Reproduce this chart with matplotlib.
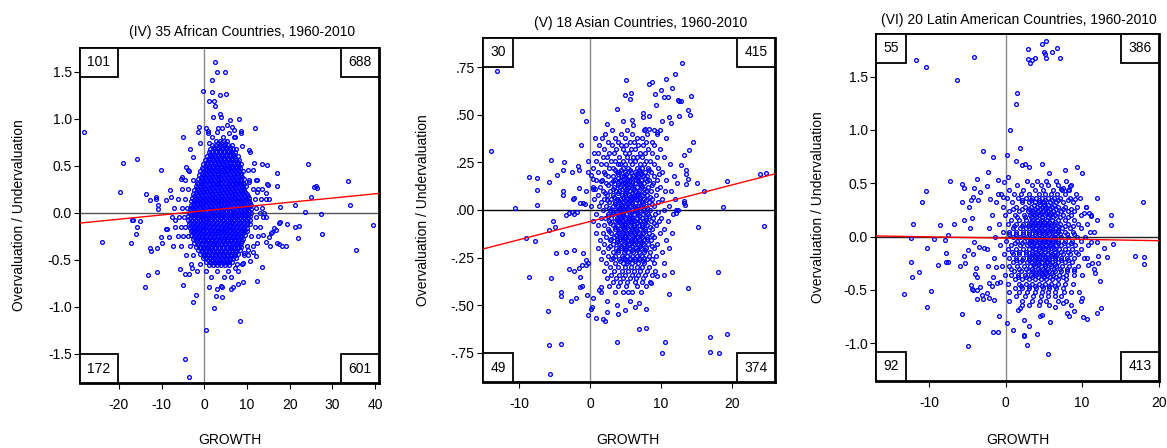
import numpy as np
import matplotlib
matplotlib.use('Agg')
from matplotlib import pyplot as plt
from matplotlib.patches import Rectangle

plt.rcParams['font.family'] = ['Liberation Sans', 'DejaVu Sans']
plt.rcParams['axes.unicode_minus'] = False

# ---------------------------------------------------------------- data
# scattered points: "growth value" pairs
AFRICA_SCATTER = """
-28.1 .855  -24.0 -.315  -19.7 .223  -19.0 .528  -15.8 .574  -10.2 .457
-17.2 -.326  -17.0 -.078  -16.8 -.078  -15.8 -.156  -16.0 -.23  -15.1 -.089
-13.7 .202  -12.6 .131  -11.4 .17  -11.4 .149  -10.9 .082  -10.9 .043
-13.8 -.787  -13.2 -.667  -12.6 -.379  -12.5 -.404  -11.1 -.379  -11.0 -.631
-10.1 -.262  -9.8 -.326  -9.0 -.174  -8.7 -.174  -8.9 .135  -8.1 .241
-7.9 .17  -7.3 -.355  -6.9 -.078  -8.3 -.255  -5.1 .808  -5.3 .383
-5.5 .362  -4.4 .489  -3.6 .447  -3.4 .674  -2.6 .596  -1.2 .915
-1.4 .862  -1.0 .745  -5.8 -.603  -5.1 -.773  -4.6 -.656  -3.5 -.656
-2.8 -.589  -2.0 -.876  -2.6 -.954  -4.6 -1.56  -3.5 -1.75  .5 -1.248
2.3 -1.01  4.1 -.90  2.7 -.883  1.1 -.787  2.9 -.809  3.8 -.777
4.2 -.787  6.2 -.812  6.8 -.794  8.3 -1.15  7.8 -.759  9.0 -.741
12.3 -.723  13.4 -.574  12.1 -.461  10.8 -.518  9.0 -.539  7.3 -.592
2.5 1.596  3.0 1.5  4.9 1.5  1.8 1.41  -.3 1.298  1.7 1.28
5.1 1.262  3.6 1.252  1.2 1.188  2.3 1.188  2.4 1.135  3.6 1.053
3.8 1.014  2.1 1.014  8.2 .996  5.9 .986  11.9 .90  8.7 .869
8.5 .851  17.0 .426  13.5 .518  14.7 .507  11.6 .532  24.2 .521
14.7 .301  15.0 .294  17.0 .284  14.4 .206  14.5 .145  15.2 .142
17.7 .057  21.2 .085  23.5 .011  25.0 .163  25.7 .27  26.1 .284
26.3 .259  27.3 -.011  27.6 -.227  33.7 .333  34.2 .082  35.6 -.394
39.5 -.131  21.2 -.149  22.2 -.138  21.9 -.27  19.4 -.117  19.2 -.351
18.3 -.351  17.5 -.337  17.1 -.326  15.4 -.351  14.5 -.316  17.7 -.096
17.4 -.106  16.3 -.167  16.7 -.184  15.9 -.202  15.5 -.22  14.5 -.05
14.0 -.007  13.0 -.007  15.2 -.255  13.7 -.238  12.4 -.326  11.3 -.415
10.3 -.397  9.3 -.433  10.4 .33  12.4 .348  12.4 .223  10.5 .667
10.8 .642  8.8 .709  7.4 .674  6.9 .809  5.4 .933  6.6 .915
6.9 .879  .9 .865  1.1 .738  .3 .897  3.0 .862  3.3 .904  4.1 .904
"""

# dense cloud, one line per value band: "value: growth growth ..."
AFRICA_CLOUD = """
.85: 0.8 5.8
.80: 1.9 4.4 7.3
.76: 2.7 3.6 4.5 5.4
.74: 3.1 4.0 4.9
.72: 1.9 2.8 3.7 4.6 5.5 6.4
.70: 2.3 3.2 4.1 5.0 5.9
.68: 1.4 2.3 3.2 4.1 5.0 5.9 6.8
.66: 1.8 2.7 3.6 4.5 5.4 6.3
.64: 1.0 1.9 2.8 3.7 4.6 5.5 6.4 7.3
.62: 1.4 2.3 3.2 4.1 5.0 5.9 6.8
.60: 0.6 1.5 2.4 3.3 4.2 5.1 6.0 6.9 7.8
.58: 1.0 1.9 2.8 3.7 4.6 5.5 6.4 7.3
.56: 0.2 1.1 2.0 2.9 3.8 4.7 5.6 6.5 7.4 8.2
.54: 0.6 1.5 2.4 3.3 4.2 5.1 6.0 6.9 7.8
.52: -0.2 0.7 1.6 2.5 3.4 4.3 5.2 6.1 7.0 7.9 8.6
.50: 0.2 1.1 2.0 2.9 3.8 4.7 5.6 6.5 7.4 8.1
.48: -0.6 0.3 1.2 2.1 3.0 3.9 4.8 5.7 6.6 7.5 8.4
.46: -0.2 0.7 1.6 2.5 3.4 4.3 5.2 6.1 7.0 7.9
.45: -3.9 10.2 11.4
.44: -0.9 0.0 0.9 1.8 2.7 3.6 4.5 5.4 6.3 7.2 8.1 9.0
.42: -0.5 0.4 1.3 2.2 3.1 4.0 4.9 5.8 6.7 7.6 8.5
.40: -1.2 -0.3 0.6 1.5 2.4 3.3 4.2 5.1 6.0 6.9 7.8 8.7
.38: -0.8 0.1 1.0 1.9 2.8 3.7 4.6 5.5 6.4 7.3 8.2 8.9
.36: -1.4 -0.5 0.4 1.3 2.2 3.1 4.0 4.9 5.8 6.7 7.6 8.5 9.3
.35: -4.6 -2.7 10.5 12.1
.34: -1.1 -0.2 0.7 1.6 2.5 3.4 4.3 5.2 6.1 7.0 7.9 8.7
.32: -1.7 -0.8 0.1 1.0 1.9 2.8 3.7 4.6 5.5 6.4 7.3 8.2 9.1
.30: -1.4 -0.5 0.4 1.3 2.2 3.1 4.0 4.9 5.8 6.7 7.6 8.5 9.3
.28: -2.0 -1.1 -0.2 0.7 1.6 2.5 3.4 4.3 5.2 6.1 7.0 7.9 8.8 9.7
.26: -1.7 -0.8 0.1 1.0 1.9 2.8 3.7 4.6 5.5 6.4 7.3 8.2 9.1
.25: -5.2 -3.8 11.3 12.6 13.5
.24: -2.3 -1.4 -0.5 0.4 1.3 2.2 3.1 4.0 4.9 5.8 6.7 7.6 8.5 9.4
.22: -2.0 -1.1 -0.2 0.7 1.6 2.5 3.4 4.3 5.2 6.1 7.0 7.9 8.8 9.6
.20: -2.6 -1.7 -0.8 0.1 1.0 1.9 2.8 3.7 4.6 5.5 6.4 7.3 8.2 9.1 10.0
.18: -2.3 -1.4 -0.5 0.4 1.3 2.2 3.1 4.0 4.9 5.8 6.7 7.6 8.5 9.4 10.2
.16: -2.8 -1.9 -1.0 -0.1 0.8 1.7 2.6 3.5 4.4 5.3 6.2 7.1 8.0 8.9 9.8 10.5
.15: -6.1 -4.5 11.8 13.2
.14: -2.5 -1.6 -0.7 0.2 1.1 2.0 2.9 3.8 4.7 5.6 6.5 7.4 8.3 9.2 10.1
.12: -3.0 -2.1 -1.2 -0.3 0.6 1.5 2.4 3.3 4.2 5.1 6.0 6.9 7.8 8.7 9.6 10.5
.10: -2.7 -1.8 -0.9 0.0 0.9 1.8 2.7 3.6 4.5 5.4 6.3 7.2 8.1 9.0 9.9 10.7
.08: -3.2 -2.3 -1.4 -0.5 0.4 1.3 2.2 3.1 4.0 4.9 5.8 6.7 7.6 8.5 9.4 10.3 11.0
.06: -2.9 -2.0 -1.1 -0.2 0.7 1.6 2.5 3.4 4.3 5.2 6.1 7.0 7.9 8.8 9.7 10.5
.05: -7.0 -5.2 -4.1 12.0 13.4
.04: -3.4 -2.5 -1.6 -0.7 0.2 1.1 2.0 2.9 3.8 4.7 5.6 6.5 7.4 8.3 9.2 10.1 10.9
.02: -3.1 -2.2 -1.3 -0.4 0.5 1.4 2.3 3.2 4.1 5.0 5.9 6.8 7.7 8.6 9.5 10.4
.00: -3.5 -2.6 -1.7 -0.8 0.1 1.0 1.9 2.8 3.7 4.6 5.5 6.4 7.3 8.2 9.1 10.0 10.9
-.02: -3.2 -2.3 -1.4 -0.5 0.4 1.3 2.2 3.1 4.0 4.9 5.8 6.7 7.6 8.5 9.4 10.3
-.04: -3.7 -2.8 -1.9 -1.0 -0.1 0.8 1.7 2.6 3.5 4.4 5.3 6.2 7.1 8.0 8.9 9.8 10.7
-.05: -7.6 -6.0 -4.8 12.2 13.7
-.06: -3.3 -2.4 -1.5 -0.6 0.3 1.2 2.1 3.0 3.9 4.8 5.7 6.6 7.5 8.4 9.3 10.2
-.08: -3.8 -2.9 -2.0 -1.1 -0.2 0.7 1.6 2.5 3.4 4.3 5.2 6.1 7.0 7.9 8.8 9.7 10.6
-.10: -3.3 -2.4 -1.5 -0.6 0.3 1.2 2.1 3.0 3.9 4.8 5.7 6.6 7.5 8.4 9.3 10.2
-.12: -3.6 -2.7 -1.8 -0.9 0.0 0.9 1.8 2.7 3.6 4.5 5.4 6.3 7.2 8.1 9.0 9.9 10.6
-.14: -3.1 -2.2 -1.3 -0.4 0.5 1.4 2.3 3.2 4.1 5.0 5.9 6.8 7.7 8.6 9.5
-.15: -6.8 -5.4 -4.6 11.8 13.0
-.16: -3.4 -2.5 -1.6 -0.7 0.2 1.1 2.0 2.9 3.8 4.7 5.6 6.5 7.4 8.3 9.2 10.1
-.18: -2.9 -2.0 -1.1 -0.2 0.7 1.6 2.5 3.4 4.3 5.2 6.1 7.0 7.9 8.8 9.6
-.20: -3.2 -2.3 -1.4 -0.5 0.4 1.3 2.2 3.1 4.0 4.9 5.8 6.7 7.6 8.5 9.4 10.1
-.22: -2.6 -1.7 -0.8 0.1 1.0 1.9 2.8 3.7 4.6 5.5 6.4 7.3 8.2 9.1
-.24: -3.0 -2.1 -1.2 -0.3 0.6 1.5 2.4 3.3 4.2 5.1 6.0 6.9 7.8 8.7 9.6
-.25: -6.2 -4.9 -3.9 11.0 12.5
-.26: -2.3 -1.4 -0.5 0.4 1.3 2.2 3.1 4.0 4.9 5.8 6.7 7.6 8.5
-.28: -2.7 -1.8 -0.9 0.0 0.9 1.8 2.7 3.6 4.5 5.4 6.3 7.2 8.1 9.0
-.30: -1.9 -1.0 -0.1 0.8 1.7 2.6 3.5 4.4 5.3 6.2 7.1 8.0 8.8
-.32: -2.3 -1.4 -0.5 0.4 1.3 2.2 3.1 4.0 4.9 5.8 6.7 7.6 8.5
-.34: -1.5 -0.6 0.3 1.2 2.1 3.0 3.9 4.8 5.7 6.6 7.5 8.3
-.35: -5.5 -3.3 10.1 11.4
-.36: -1.9 -1.0 -0.1 0.8 1.7 2.6 3.5 4.4 5.3 6.2 7.1 8.0 8.7
-.38: -1.1 -0.2 0.7 1.6 2.5 3.4 4.3 5.2 6.1 7.0 7.8
-.40: -1.5 -0.6 0.3 1.2 2.1 3.0 3.9 4.8 5.7 6.6 7.5 8.3
-.42: -0.6 0.3 1.2 2.1 3.0 3.9 4.8 5.7 6.6 7.4
-.44: -1.0 -0.1 0.8 1.7 2.6 3.5 4.4 5.3 6.2 7.1 7.9
-.45: -4.4 -2.6 9.2 10.3
-.46: 0.0 0.9 1.8 2.7 3.6 4.5 5.4 6.3 7.0
-.48: -0.4 0.5 1.4 2.3 3.2 4.1 5.0 5.9 6.8 7.5
-.50: 0.8 1.7 2.6 3.5 4.4 5.3 6.1
-.52: 0.4 1.3 2.2 3.1 4.0 4.9 5.8 6.6
-.54: 1.6 2.5 3.4 4.3 5.2
-.55: -3.0 -1.1 7.6 8.9
-.56: 1.2 2.1 3.0 3.9 4.8 5.7
-.62: -1.8 0.5 3.0 5.5 7.9
-.68: 1.5 4.7 6.3
"""

ASIA_SCATTER = """
-13.15 .732  -14.0 .311  -10.5 .012  -9.0 -.146  -7.7 -.162  -8.6 .176
-7.4 .170  -7.4 .105  -7.4 .025  -8.6 -.353  -5.8 .149  -5.5 .263
-4.7 .184  -3.8 .211  -3.6 .251  -3.8 .100  -3.8 .079  -5.2 -.058
-4.9 -.088  -5.7 -.105  -3.9 -.128  -4.8 -.227  -3.4 -.221  -5.5 -.36
-5.9 -.534  -5.7 -.711  -4.1 -.704  -5.6 -.861  -4.1 -.432  -4.1 -.453
-2.7 -.48  -2.0 -.462  -3.0 -.309  -2.3 -.32  -2.3 -.209  -3.4 -.026
-3.0 -.018  -2.5 -.011  -2.3 -.023  -1.8 -.012  -2.4 .056  -2.3 .065
-1.4 .035  -1.0 .035  -.75 .033  -2.5 .2  -1.7 .232  -1.5 .211
-1.5 .114  -1.1 .522  -.5 .469  -1.3 .344  -.6 .1  -.2 .258
-.2 .2  .1 .184  .56 .302  .7 .378  .4 .162  .4 .109  .7 .109
2.4 .451  3.8 .532  4.6 .469  5.1 .682  4.9 .606  5.8 .618
5.6 .585  6.0 .474  6.06 .448  7.5 .508  7.5 .488  8.4 .494
8.4 .664  8.8 .676  9.2 .611  9.3 .553  10.0 .632  10.5 .597
11.0 .594  10.8 .69  11.6 .641  12.0 .717  13.05 .776  12.4 .58
12.6 .576  12.9 .571  14.2 .599  13.9 .527  14.05 .501  12.6 .497
11.2 .488  11.5 .457  10.1 .467  9.95 .422  9.5 .413  8.97 .422
7.8 .427  8.3 .427  14.6 .357  14.0 .314  13.3 .288  12.8 .237
13.6 .211  13.6 .188  13.8 .163  13.6 .135  15.1 .14  16.1 .098
18.7 .018  19.4 .153  24.0 .188  24.9 .197  24.5 -.084  15.2 -.091
13.3 .049  13.3 .037  13.4 .026  12.2 -.018  12.2 .0  18.1 -.327
13.8 -.408  11.2 -.444  11.6 -.325  10.4 -.343  9.4 -.346  8.6 -.383
7.9 -.522  7.9 -.62  6.9 -.627  6.9 -.488  6.3 -.51  5.7 -.48
5.35 -.43  5.0 -.527  3.8 -.5  3.9 -.548  3.8 -.692  2.4 -.536
2.4 -.478  2.2 -.585  1.8 -.574  .85 -.567  -.2 -.553  .3 -.509
.14 -.52  .5 -.462  -.4 -.448  1.3 -.422  1.6 -.43  1.5 -.404
-.6 -.29  -.2 -.278  -1.1 -.29  -1.5 -.304  -1.4 -.35  -1.4 -.404
-1.1 -.399  -1.0 -.225  -.6 -.264  16.95 -.667  16.95 -.745  18.2 -.755
19.3 -.652  10.1 -.755  10.6 -.697
"""

ASIA_CLOUD = """
.42: 3.1 5.3 7.7
.40: 2.2 4.4 6.0 8.1 9.4
.38: 1.7 3.5 4.9 6.6 7.3 10.8
.36: 2.6 3.9 5.6 6.2 7.9 8.7
.34: 1.3 3.1 4.4 5.1 6.8 7.5 9.1
.32: 2.0 3.7 4.6 5.8 6.4 8.2 9.9
.30: 1.1 2.7 3.4 4.9 5.5 7.0 7.8 8.8
.28: 1.8 2.4 4.1 5.2 6.1 6.7 7.4 9.4 10.5
.26: 0.8 3.0 3.6 4.6 5.7 6.4 7.9 8.5
.24: 1.5 2.3 3.9 4.3 5.0 6.0 7.1 7.6 9.0 11.3
.22: 0.5 2.7 3.3 4.7 5.4 6.6 7.3 8.2 9.6
.21: 3.5 4.4 5.6 6.9 8.3
.20: 1.2 2.0 3.8 4.1 5.0 5.8 6.3 7.0 7.8 8.6 10.2
.19: 2.2 4.0 5.1 6.5 7.2 9.7
.18: 2.6 3.2 4.5 4.8 5.5 6.1 6.8 7.5 8.0 9.1 11.8
.17: 3.9 4.9 5.9 6.7 7.8
.16: 0.9 1.7 3.6 4.2 5.2 5.7 6.5 7.2 8.4 9.5 10.8
.15: 1.6 3.3 4.4 5.5 6.8 8.0
.14: 2.3 3.0 3.9 4.6 5.0 5.9 6.3 7.0 7.7 8.9 12.3
.13: 2.6 4.0 5.1 5.8 7.2 8.7
.12: 0.4 1.4 3.4 4.3 4.8 5.4 6.0 6.7 7.4 8.2 9.9
.11: 3.2 4.5 5.3 6.2 7.6 9.4
.10: 1.9 2.8 3.7 4.1 5.1 5.7 6.4 6.9 7.9 8.6 10.6 11.5
.09: 2.1 3.9 5.0 5.9 6.8 7.7
.08: 1.1 2.4 3.3 4.5 4.9 5.5 6.2 6.6 7.3 8.1 9.3
.07: 3.4 4.6 5.6 6.3 7.0 8.5
.06: 0.6 2.0 3.0 3.8 4.3 5.2 5.8 6.5 7.1 7.6 8.8 10.1 12.0
.05: 2.4 4.0 4.9 5.6 6.7 7.9
.04: 1.6 2.7 3.5 4.1 4.7 5.4 6.0 6.9 7.4 8.3 9.6
.03: 3.6 4.4 5.3 6.0 7.5 8.7
.02: 0.2 1.3 2.3 3.2 3.9 4.5 5.0 5.6 6.3 6.7 7.2 7.9 9.0 11.1
.01: 2.7 4.1 4.7 5.4 6.3 7.1 8.0
.00: 1.9 2.9 3.6 4.3 4.8 5.3 5.9 6.5 7.0 7.7 8.5 10.4 12.4
-.01: 3.2 4.5 5.9 6.6 7.8 9.6
-.02: 0.8 2.5 3.3 4.0 4.6 5.1 5.7 6.2 6.8 7.5 8.2 9.2 11.7
-.03: 2.5 4.1 4.8 5.7 6.9 8.4
-.04: 1.5 2.2 3.0 3.8 4.4 4.9 5.5 6.0 6.6 7.3 7.9 8.9 10.0
-.05: 3.8 4.5 5.5 6.1 7.1 7.9
-.06: 0.5 2.7 3.5 4.1 4.7 5.3 5.8 6.4 7.0 7.6 8.6 9.7 11.0
-.07: 2.9 4.3 5.0 5.8 6.6 7.8 9.0
-.08: 1.2 2.0 3.2 3.9 4.5 5.0 5.6 6.2 6.9 7.4 8.1 9.3
-.09: 3.5 4.6 5.3 6.2 7.3 8.5
-.10: 2.5 3.6 4.2 4.8 5.4 6.0 6.5 7.1 7.8 8.7 10.5
-.11: 2.7 4.1 4.9 5.8 6.6 7.8
-.12: 0.9 1.8 3.0 3.9 4.6 5.2 5.7 6.3 6.9 7.5 8.3 9.9 11.6
-.13: 3.7 4.5 5.4 6.3 7.2 8.7
-.14: 2.3 3.4 4.3 4.9 5.5 6.1 6.6 7.3 8.0 9.0
-.15: 3.0 4.2 5.0 5.9 6.9 8.1
-.16: 1.4 2.9 3.8 4.6 5.2 5.8 6.4 7.0 7.7 8.6 10.7
-.17: 3.8 4.9 5.8 6.5 7.3
-.18: 2.0 3.3 4.1 4.8 5.5 6.2 6.8 7.5 8.2 9.5
-.19: 2.9 4.4 5.3 6.0 7.0 8.8
-.20: 1.1 2.6 3.7 4.4 5.1 5.7 6.5 7.2 7.9 9.0 11.2
-.21: 3.9 5.0 5.9 6.7 7.8
-.22: 1.9 3.2 4.0 4.8 5.4 6.1 6.9 7.7 8.5 10.1
-.24: 2.5 3.6 4.5 5.2 5.9 6.6 7.4 8.3 9.3
-.25: 3.3 4.7 5.7 6.9 7.7
-.26: 1.6 3.0 4.1 4.9 5.6 6.3 7.1 8.0 8.8
-.27: 4.2 5.3 6.3 7.5
-.28: 2.3 3.5 4.6 5.3 6.0 6.8 7.7 9.0 10.4
-.30: 2.9 4.0 5.0 5.8 6.6 7.4 8.4
-.32: 2.0 3.4 4.5 5.4 6.2 7.1 8.0 9.2
-.34: 3.0 4.1 5.0 5.9 6.8 7.8 8.8
-.36: 2.4 3.7 4.7 5.6 6.5 7.5
-.38: 3.2 4.3 5.3 6.3 7.3 8.5
-.40: 2.7 4.0 5.1 6.6 7.9
-.43: 3.5 4.7 6.0 7.2
"""

LATAM_SCATTER = """
-11.7 1.652  -10.4 1.589  -4.2 1.687  -6.3 1.467  2.9 1.755  2.9 1.661
3.2 1.624  3.4 1.658  3.9 1.674  4.8 1.802  5.3 1.834  5.0 1.734
5.2 1.708  5.3 1.677  6.0 1.730  6.7 1.771  7.1 1.677  1.5 1.345
1.3 1.241  .6 1.003  1.9 .831  -3.0 .806  -1.6 .746  .2 .765
1.3 .705  2.1 .668  2.5 .68  3.0 .649  4.8 .677  5.7 .599
7.7 .621  9.3 .649  10.0 .592  -2.3 .605  -3.7 .542  -7.3 .523
-5.7 .498  -5.5 .458  -4.2 .455  -10.4 .429  -10.9 .326  -5.7 .329
-4.3 .367  -4.5 .345  -3.6 .339  -3.4 .417  -4.8 .282  -12.1 .122
-8.6 .107  -6.7 .122  -5.4 .16  -4.4 .179  -4.7 .085  -7.5 .016
-12.4 -.013  -9.4 -.022  -7.9 -.034  -10.3 -.103  -12.4 -.235  -12.3 -.382
-11.3 -.329  -13.3 -.539  -9.7 -.508  -10.3 -.661  -8.9 -.263  -7.8 -.15
-7.8 -.235  -7.6 -.235  -6.0 -.276  -5.3 -.248  -5.5 -.182  -4.9 -.125
-4.3 -.163  -4.2 -.053  -3.5 -.097  -2.8 -.11  -3.9 -.292  -3.96 -.351
-3.8 -.382  -4.5 -.458  -4.4 -.489  -4.3 -.502  -3.8 -.502  -3.4 -.47
-3.8 -.589  -3.1 -.549  -3.0 -.583  -2.5 -.533  -2.2 -.577  -1.5 -.596
-2.3 -.276  -1.3 -.285  -2.2 -.433  -1.7 -.376  -1.8 -.461  -1.1 -.439
-.7 -.423  -5.7 -.724  -3.65 -.80  -4.9 -1.025  -1.6 -.897  -1.0 -.897
-.9 -.743  .4 -.605  .2 -.809  1.0 -.878  1.65 -.69  1.9 -.674
2.1 -.643  2.4 -.784  3.0 -.84  2.4 -.934  2.4 -.922  2.8 -1.019
4.1 -.912  4.5 -.743  4.7 -.737  5.8 -.80  5.5 -1.1  6.4 -.658
7.5 -.627  8.0 -.715  8.3 -.743  8.6 -.643  8.9 -.696  10.1 -.752
10.65 -.774  11.9 -.721  12.5 -.674  9.8 -.602  9.65 -.524  9.96 -.58
12.3 -.417  11.7 -.345  11.5 -.307  12.05 -.251  11.3 -.251  10.8 -.266
10.65 -.204  12.1 -.179  13.3 -.188  12.9 -.103  14.0 -.066  16.9 -.179
18.1 -.188  18.1 -.26  17.9 .32  13.8 .204  13.8 .11  12.0 .364
11.9 .157  11.6 .047  12.0 -.053  11.2 -.053  10.5 .282  10.96 .219
11.2 .194  10.2 .219  9.1 .351  8.4 .47  8.3 .439  7.5 .455  7.2 .448
.3 .555  -.2 .51  -1.0 .53  -2.4 .47  -2.0 .35  -1.0 .40  -.4 .37
"""

LATAM_CLOUD = """
.52: 2.8 4.1 5.3 6.6 7.9
.48: 1.5 3.4 4.6 5.6 6.9 8.6
.44: 0.5 2.3 3.9 4.9 6.2 7.4 8.1
.40: -0.6 1.1 2.0 3.0 4.3 5.2 5.9 6.7 7.7 9.2
.36: 0.2 1.6 2.6 3.5 4.0 4.7 5.5 6.3 7.1 8.4 9.7
.34: 2.2 3.3 4.4 5.2 6.0 6.9 8.1
.32: -1.3 0.8 2.1 3.0 3.8 4.4 5.0 5.8 6.6 7.5 8.8
.30: 3.7 4.5 5.0 5.6 6.3
.28: -0.3 1.3 2.5 3.3 4.1 4.7 5.3 6.0 6.9 7.8 9.3 10.5
.26: 1.0 2.1 3.0 3.8 4.5 5.1 5.8 6.6 7.5 8.6
.24: 0.5 1.8 2.9 3.6 4.2 4.9 5.6 6.2 7.2 8.1 9.0
.22: 3.4 4.0 4.6 5.3 5.9 6.7
.20: -1.8 -0.1 1.2 2.4 3.2 3.9 4.5 5.1 5.8 6.5 7.5 8.5 9.8 11.2
.18: 1.5 2.5 3.3 4.0 4.8 5.5 6.2 7.1 8.2
.16: 0.7 1.8 2.7 3.5 4.1 4.7 5.4 6.0 6.8 7.7 8.9
.14: 3.3 3.9 4.5 5.0 5.7 6.5
.12: -0.9 0.3 1.3 2.3 3.0 3.7 4.3 4.9 5.6 6.3 7.1 8.1 9.4 10.6
.10: 1.1 2.1 2.9 3.6 4.2 4.8 5.4 6.1 6.9 7.8 8.8
.08: -2.2 0.9 1.9 2.7 3.4 4.0 4.6 5.2 5.9 6.6 7.4 8.4 9.9
.06: 3.6 4.2 4.8 5.4 6.0 6.8
.04: -0.4 0.5 1.4 2.3 3.1 3.8 4.4 5.0 5.6 6.2 6.9 7.8 8.8 11.0
.02: 0.4 1.4 2.3 3.1 3.8 4.4 5.0 5.7 6.4 7.1 8.0 9.0
.00: -1.4 1.0 1.9 2.8 3.5 4.1 4.7 5.3 5.9 6.5 7.3 8.2 9.3 10.4
-.02: 3.3 3.9 4.5 5.1 5.7 6.4
-.04: 0.1 1.5 2.4 3.2 3.8 4.4 5.0 5.6 6.2 6.9 7.7 8.7 9.8
-.06: 1.2 2.2 3.0 3.7 4.3 4.9 5.5 6.1 6.8 7.6 8.5
-.08: -0.8 0.7 1.9 2.8 3.5 4.1 4.7 5.3 5.9 6.6 7.3 8.1 9.1 10.8
-.10: 3.6 4.3 4.9 5.5 6.2
-.12: -2.4 0.3 1.3 2.3 3.1 3.8 4.4 5.0 5.6 6.3 7.0 7.8 8.7 9.9
-.14: 0.8 1.7 2.6 3.4 4.0 4.6 5.2 5.9 6.5 7.3 8.2 9.2
-.16: -0.2 0.9 1.8 2.7 3.5 4.1 4.7 5.4 6.0 6.7 7.5 8.4 9.4
-.18: 3.2 3.9 4.5 5.2 5.9 6.6
-.20: -1.5 0.4 1.4 2.3 3.1 3.8 4.4 5.1 5.7 6.4 7.2 8.0 9.0 10.2
-.22: 1.3 2.2 3.0 3.7 4.4 5.0 5.7 6.4 7.2 8.1
-.24: 0.9 1.9 2.8 3.5 4.2 4.8 5.4 6.1 6.9 7.7 8.7
-.26: 3.7 4.4 5.1 5.8 6.5
-.28: -0.5 0.5 1.5 2.4 3.2 3.9 4.6 5.2 5.9 6.6 7.4 8.3 9.5
-.30: 0.7 1.8 2.7 3.5 4.2 4.9 5.6 6.3 7.1 8.0 8.9
-.32: 1.1 2.0 2.9 3.6 4.3 5.0 5.7 6.4 7.2 8.0 9.0
-.34: 3.9 4.6 5.3 6.1
-.36: -0.1 0.7 1.6 2.5 3.3 4.0 4.7 5.4 6.2 7.0 7.9 8.9 10.0
-.38: 1.6 2.6 3.4 4.2 5.0 5.8 6.6 7.5
-.40: 1.2 2.1 3.0 3.8 4.6 5.3 6.1 6.9 7.9
-.44: 0.3 1.7 2.6 3.5 4.3 5.1 5.9 6.8 7.7 8.8
-.46: 2.0 3.0 3.9 4.8 5.7 6.5
-.48: 1.2 2.2 3.1 4.0 4.9 5.7 6.6 7.5
-.52: 0.5 1.8 2.8 3.8 4.7 5.6 6.5 7.6 8.5
-.56: 1.4 2.5 3.6 4.6 5.5 6.4 7.3
-.60: 2.2 3.4 4.5 5.3 6.8 7.9
-.64: 3.0 4.4 5.7
"""

# quadrant counts: top-left, top-right, bottom-left, bottom-right
AFRICA_COUNTS = ['101', '688', '172', '601']
ASIA_COUNTS = ['30', '415', '49', '374']
LATAM_COUNTS = ['55', '386', '92', '413']

# fitted line (intercept, slope)
AFRICA_FIT = (0.0205, 0.0045)
ASIA_FIT = (-0.0605, 0.0096)
LATAM_FIT = (-0.0142, -0.00119)

TITLES = ['(IV) 35 African Countries, 1960-2010',
          '(V) 18 Asian Countries, 1960-2010',
          '(VI) 20 Latin American Countries, 1960-2010']

AFRICA_XTICKS = [-20, -10, 0, 10, 20, 30, 40]
AFRICA_YTICKS = [-1.5, -1.0, -0.5, 0.0, 0.5, 1.0, 1.5]
ASIA_XTICKS = [-10, 0, 10, 20]
ASIA_YTICKS = [-0.75, -0.50, -0.25, 0.0, 0.25, 0.50, 0.75]
ASIA_YLABELS = ['-.75', '-.50', '-.25', '.00', '.25', '.50', '.75']
LATAM_XTICKS = [-10, 0, 10, 20]
LATAM_YTICKS = [-1.0, -0.5, 0.0, 0.5, 1.0, 1.5]


def parse_pairs(text):
    arr = np.array(text.split(), dtype=float).reshape(-1, 2)
    return arr[:, 0], arr[:, 1]


def parse_bands(text):
    xs, ys = [], []
    for line in text.strip().splitlines():
        y, row = line.split(':')
        for x in row.split():
            xs.append(float(x))
            ys.append(float(y))
    return np.array(xs), np.array(ys)


def points(scatter, cloud):
    x1, y1 = parse_pairs(scatter)
    x2, y2 = parse_bands(cloud)
    return np.concatenate([x1, x2]), np.concatenate([y1, y2])


W, H = 1167, 448
fig = plt.figure(figsize=(W / 100, H / 100), dpi=100)


def px_rect(left, top, right, bottom):
    return [left / W, 1 - bottom / H, (right - left) / W, (bottom - top) / H]


panels = [
    dict(rect=px_rect(80, 48, 379, 383), xlim=(-29.1, 40.9), ylim=(-1.81, 1.75),
         data=points(AFRICA_SCATTER, AFRICA_CLOUD), counts=AFRICA_COUNTS, fit=AFRICA_FIT,
         xticks=AFRICA_XTICKS, yticks=AFRICA_YTICKS,
         ylabels=['%.1f' % v for v in AFRICA_YTICKS],
         title_xy=(242, 32), xlabel_x=230, ylabel_xy=(19, 215), hcolor='#555555'),
    dict(rect=px_rect(483, 38, 775, 382), xlim=(-15.07, 26.1), ylim=(-0.905, 0.905),
         data=points(ASIA_SCATTER, ASIA_CLOUD), counts=ASIA_COUNTS, fit=ASIA_FIT,
         xticks=ASIA_XTICKS, yticks=ASIA_YTICKS, ylabels=ASIA_YLABELS,
         title_xy=(641, 23), xlabel_x=628, ylabel_xy=(423, 210), hcolor='black'),
    dict(rect=px_rect(876, 34, 1159, 381), xlim=(-16.95, 20.05), ylim=(-1.354, 1.90),
         data=points(LATAM_SCATTER, LATAM_CLOUD), counts=LATAM_COUNTS, fit=LATAM_FIT,
         xticks=LATAM_XTICKS, yticks=LATAM_YTICKS,
         ylabels=['%.1f' % v for v in LATAM_YTICKS],
         title_xy=(1019, 20), xlabel_x=1018, ylabel_xy=(818, 207), hcolor='#222222'),
]

for title, p in zip(TITLES, panels):
    ax = fig.add_axes(p['rect'])
    ax.set_xlim(*p['xlim'])
    ax.set_ylim(*p['ylim'])
    ax.axvline(0, color='#888888', lw=1.0, zorder=1)
    ax.axhline(0, color=p['hcolor'], lw=1.0, zorder=1)
    x, y = p['data']
    ax.plot(x, y, ls='none', marker='o', ms=2.7, mfc='none', mec='#0000ff', mew=0.95, zorder=2)
    b0, b1 = p['fit']
    xs = np.array(p['xlim'])
    ax.plot(xs, b0 + b1 * xs, color='red', lw=1.0, zorder=3)

    ax.set_xticks(p['xticks'])
    ax.set_yticks(p['yticks'])
    ax.set_yticklabels(p['ylabels'])
    ax.tick_params(axis='both', direction='out', length=4, width=0.8, labelsize=10)
    ax.tick_params(axis='x', pad=7)
    ax.tick_params(axis='y', pad=2)
    for side in ['top', 'left']:
        ax.spines[side].set_linewidth(1.4)
    for side in ['right', 'bottom']:
        ax.spines[side].set_linewidth(2.0)

    # quadrant count boxes
    l, t = p['rect'][0] * W, H - (p['rect'][1] + p['rect'][3]) * H
    r, b = l + p['rect'][2] * W, t + p['rect'][3] * H
    bh = 29
    for k, txt in enumerate(p['counts']):
        bw = 30 if len(txt) == 2 else 38
        bx = l if k in (0, 2) else r - bw
        by = t if k in (0, 1) else b - bh
        fig.add_artist(Rectangle((bx / W, 1 - (by + bh) / H), bw / W, bh / H,
                                 transform=fig.transFigure, facecolor='white',
                                 edgecolor='black', lw=1.3, zorder=5))
        fig.text((bx + bw / 2) / W, 1 - (by + bh / 2) / H, txt, ha='center', va='center',
                 fontsize=10, zorder=6)

    fig.text(p['title_xy'][0] / W, 1 - p['title_xy'][1] / H, title,
             ha='center', va='center', fontsize=10)
    fig.text(p['xlabel_x'] / W, 1 - 440 / H, 'GROWTH', ha='center', va='center', fontsize=10)
    fig.text(p['ylabel_xy'][0] / W, 1 - p['ylabel_xy'][1] / H, 'Overvaluation / Undervaluation',
             ha='center', va='center', rotation=90, fontsize=10)

fig.savefig('out.png', dpi=100)
